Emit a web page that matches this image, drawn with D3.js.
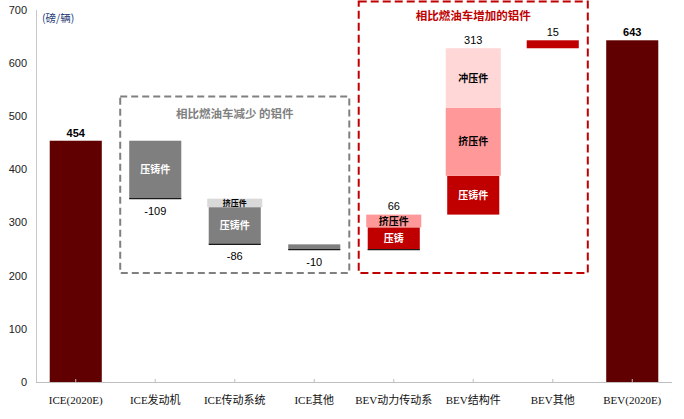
<!DOCTYPE html>
<html>
<head>
<meta charset="utf-8">
<script src="https://cdn.jsdelivr.net/npm/d3@7"></script>
<style>
  body { margin: 0; background: #fff; }
  svg { display: block; }
</style>
</head>
<body>
<div id="chart"></div>
<script>
// categories along the x axis
var categories = ["ICE(2020E)", "ICE发动机", "ICE传动系统", "ICE其他", "BEV动力传动系", "BEV结构件", "BEV其他", "BEV(2020E)"];

// the two full bars (null = floating step)
var totals = [454, null, null, null, null, null, null, 643];
// change of each step (label under / above)
var changes = [null, -109, -86, -10, 66, 313, 15, null];

// parts of each step, stacked from the lower end up
var diecast   = [0, 109, 70, 0, 42, 73, 0, 0];
var extrusion = [0, 0, 16, 0, 24, 128, 0, 0];
var stamping  = [0, 0, 0, 0, 0, 112, 0, 0];
var other     = [0, 0, 0, 10, 0, 0, 15, 0];
var diecastLabels = ["", "压铸件", "压铸件", "", "压铸", "压铸件", "", ""];

var yTicks = [0, 100, 200, 300, 400, 500, 600, 700];

var width = 684, height = 419;

var svg = d3.select("#chart").append("svg")
    .attr("width", width)
    .attr("height", height);

var x = d3.scaleBand()
    .domain(categories)
    .range([36, 672])
    .paddingInner(0.345)
    .paddingOuter(0.1725);

var y = d3.scaleLinear()
    .domain([0, 700])
    .range([382, 10]);

var bw = x.bandwidth();

// y axis labels + line
svg.append("g").selectAll("text")
    .data(yTicks)
    .enter().append("text")
      .attr("x", 27)
      .attr("y", function(d) { return y(d); })
      .attr("dy", "0.35em")
      .attr("text-anchor", "end")
      .style("font-family", "'Liberation Sans', Arial, sans-serif")
      .style("font-size", "11px")
      .style("fill", "#222")
      .text(function(d) { return d; });

svg.append("line")
    .attr("x1", 36.5).attr("x2", 36.5)
    .attr("y1", y(700)).attr("y2", y(0))
    .style("stroke", "#c8c8c8")
    .style("stroke-width", 1);

svg.append("text")
    .attr("x", 42)
    .attr("y", 22)
    .style("font-family", "'Noto Sans CJK SC', sans-serif")
    .style("font-size", "10.5px")
    .style("fill", "#1f3c78")
    .text("(磅/辆)");

// annotation boxes (dashed), drawn behind the bars
function box(c0, c1, v0, v1, color, dash) {
  var pad = 9;
  svg.append("rect")
    .attr("x", x(c0) - pad)
    .attr("y", y(v1))
    .attr("width", x(c1) + bw + pad - (x(c0) - pad))
    .attr("height", y(v0) - y(v1))
    .style("fill", "none")
    .style("stroke", color)
    .style("stroke-width", 2)
    .style("stroke-dasharray", dash);
}
box(categories[1], categories[3], 205, 537, "#808080", "7,4");
box(categories[4], categories[6], 205, 716, "#c00000", "8,4");

svg.append("text")
    .attr("x", (x(categories[1]) + x(categories[3]) + bw) / 2)
    .attr("y", y(505))
    .attr("dy", "0.35em")
    .attr("text-anchor", "middle")
    .style("font-family", "'Noto Sans CJK SC', sans-serif")
    .style("font-size", "11.5px")
    .style("font-weight", "bold")
    .style("fill", "#808080")
    .text("相比燃油车减少 的铝件");

svg.append("text")
    .attr("x", (x(categories[4]) + x(categories[6]) + bw) / 2)
    .attr("y", y(688))
    .attr("dy", "0.35em")
    .attr("text-anchor", "middle")
    .style("font-family", "'Noto Sans CJK SC', sans-serif")
    .style("font-size", "11.5px")
    .style("font-weight", "bold")
    .style("fill", "#c00000")
    .text("相比燃油车增加的铝件");

// build the waterfall pieces
var pieces = [];
var steps = [];
var level = 0;
categories.forEach(function(c, i) {
  if (totals[i] != null) {
    level = totals[i];
    pieces.push({cat: c, lo: 0, hi: totals[i], fill: "#600000"});
    return;
  }
  var start = level, end = level + changes[i];
  var lo = Math.min(start, end);
  var up = changes[i] > 0;
  var parts = [
    {v: diecast[i],   fill: up ? "#c00000" : "#7f7f7f", label: diecastLabels[i], color: "#fff", size: 10},
    {v: extrusion[i], fill: up ? "#ff9999" : "#d9d9d9", label: "挤压件", color: "#000", size: up ? 10 : 8, wide: true},
    {v: stamping[i],  fill: "#ffd7d7", label: "冲压件", color: "#000", size: 10, wide: true},
    {v: other[i],     fill: up ? "#c00000" : "#7f7f7f", label: ""}
  ];
  var base = lo;
  parts.forEach(function(p) {
    if (!p.v) return;
    pieces.push({cat: c, lo: base, hi: base + p.v, fill: p.fill, label: p.label, color: p.color, size: p.size, wide: p.wide});
    base += p.v;
  });
  steps.push({cat: c, start: start, end: end, change: changes[i]});
  level = end;
});

svg.append("g").selectAll("rect")
    .data(pieces)
    .enter().append("rect")
      .attr("x", function(d) { return x(d.cat) - (d.wide ? 1.5 : 0); })
      .attr("width", function(d) { return bw + (d.wide ? 3 : 0); })
      .attr("y", function(d) { return y(d.hi); })
      .attr("height", function(d) { return y(d.lo) - y(d.hi); })
      .style("fill", function(d) { return d.fill; });

// labels inside the pieces
svg.append("g").selectAll("text")
    .data(pieces.filter(function(d) { return d.label; }))
    .enter().append("text")
      .attr("x", function(d) { return x(d.cat) + bw / 2; })
      .attr("y", function(d) { return (y(d.lo) + y(d.hi)) / 2; })
      .attr("dy", "0.36em")
      .attr("text-anchor", "middle")
      .style("font-family", "'Noto Sans CJK SC', sans-serif")
      .style("font-weight", "bold")
      .style("font-size", function(d) { return d.size + "px"; })
      .style("fill", function(d) { return d.color; })
      .text(function(d) { return d.label; });

// dark line at the lower end of the first steps
svg.append("g").selectAll("line")
    .data(steps.slice(0, 4))
    .enter().append("line")
      .attr("x1", function(d) { return x(d.cat); })
      .attr("x2", function(d) { return x(d.cat) + bw; })
      .attr("y1", function(d) { return y(Math.min(d.start, d.end)); })
      .attr("y2", function(d) { return y(Math.min(d.start, d.end)); })
      .style("stroke", "#1a1a1a")
      .style("stroke-width", 1.3);

// step values: below the bar for decreases, above for increases
svg.append("g").selectAll("text")
    .data(steps)
    .enter().append("text")
      .attr("x", function(d) { return x(d.cat) + bw / 2; })
      .attr("y", function(d) { return d.change < 0 ? y(d.end) + 12 : y(d.end) - 8; })
      .attr("dy", "0.35em")
      .attr("text-anchor", "middle")
      .style("font-family", "'Liberation Sans', Arial, sans-serif")
      .style("font-size", "11px")
      .style("fill", "#000")
      .text(function(d) { return d.change; });

// totals
svg.append("g").selectAll("text")
    .data(categories.filter(function(c, i) { return totals[i] != null; }))
    .enter().append("text")
      .attr("x", function(c) { return x(c) + bw / 2; })
      .attr("y", function(c) { return y(totals[categories.indexOf(c)]) - 8; })
      .attr("dy", "0.35em")
      .attr("text-anchor", "middle")
      .style("font-family", "'Liberation Sans', Arial, sans-serif")
      .style("font-size", "11px")
      .style("font-weight", "bold")
      .style("fill", "#000")
      .text(function(c) { return totals[categories.indexOf(c)]; });

// x axis
svg.append("line")
    .attr("x1", 36).attr("x2", 672)
    .attr("y1", 382.5).attr("y2", 382.5)
    .style("stroke", "#bfbfbf")
    .style("stroke-width", 1.2);

svg.append("g").selectAll("line")
    .data(categories)
    .enter().append("line")
      .attr("x1", function(c) { return x(c) + bw / 2; })
      .attr("x2", function(c) { return x(c) + bw / 2; })
      .attr("y1", 379).attr("y2", 382.5)
      .style("stroke", "#bfbfbf");

svg.append("g").selectAll("text")
    .data(categories)
    .enter().append("text")
      .attr("x", function(c) { return x(c) + bw / 2; })
      .attr("y", 400)
      .attr("dy", "0.35em")
      .attr("text-anchor", "middle")
      .style("font-family", "'Liberation Serif', 'Noto Sans CJK SC', serif")
      .style("font-size", "11px")
      .style("fill", "#111")
      .text(function(c) { return c; });
</script>
</body>
</html>
